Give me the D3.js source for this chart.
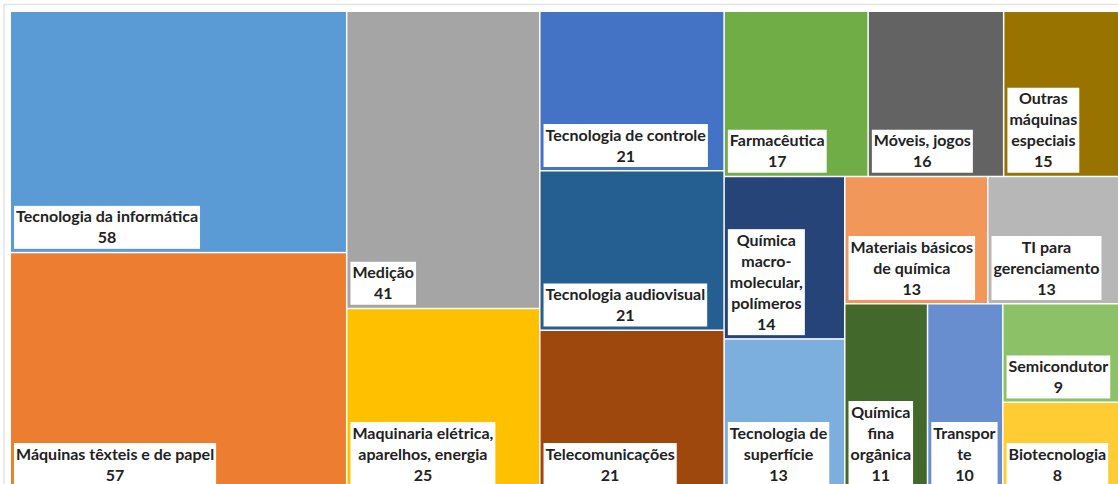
<!DOCTYPE html>
<html>
<head>
<meta charset="utf-8">
<script src="https://cdn.jsdelivr.net/npm/d3@7"></script>
<style>
  html, body { margin: 0; padding: 0; background: #fff; }
  svg { display: block; }
</style>
</head>
<body>
<div id="chart"></div>
<script>
// label lines as they wrap in the original
const categories = [
  'Tecnologia da informática', 'Máquinas têxteis e de papel', 'Medição',
  'Maquinaria elétrica,\naparelhos, energia', 'Tecnologia de controle', 'Tecnologia audiovisual',
  'Telecomunicações', 'Farmacêutica', 'Móveis, jogos', 'Outras\nmáquinas\nespeciais',
  'Química\nmacro-\nmolecular,\npolímeros', 'Tecnologia de\nsuperfície', 'Materiais básicos\nde química',
  'TI para\ngerenciamento', 'Química\nfina\norgânica', 'Transpor\nte', 'Semicondutor', 'Biotecnologia'
];
const values = [58, 57, 41, 25, 21, 21, 21, 17, 16, 15, 14, 13, 13, 13, 11, 10, 9, 8];
const colors = [
  '#5B9BD5', '#ED7D31', '#A5A5A5', '#FFC000', '#4472C4', '#255E91',
  '#9E480E', '#70AD47', '#636363', '#997300', '#264478', '#7CAFDD', '#F1975A',
  '#B7B7B7', '#43682B', '#698ED0', '#8CC168', '#FFCD33'
];

const width = 1118, height = 484;
const margin = { top: 12, left: 11 };
const mapWidth = 1119, mapHeight = 477;
const lineHeight = 21;

// squarified tiling that, like Excel, tolerates tall cells more than wide ones
const widePenalty = 1.6;
function excelTile(parent, x0, y0, x1, y1) {
  const nodes = parent.children;
  let value = parent.value, i0 = 0;
  while (i0 < nodes.length) {
    const dx = x1 - x0, dy = y1 - y0;
    const column = dx >= dy;
    const side = column ? dy : dx;
    const unit = dx * dy / value;
    const worst = (sum, row) => {
      const t = sum * unit / side;
      return d3.max(row, n => {
        const l = n.value * unit / t;
        const w = column ? t : l, h = column ? l : t;
        return w >= h ? widePenalty * w / h : h / w;
      });
    };
    let i1 = i0 + 1, sum = nodes[i0].value;
    let best = worst(sum, nodes.slice(i0, i1));
    while (i1 < nodes.length) {
      const next = worst(sum + nodes[i1].value, nodes.slice(i0, i1 + 1));
      if (next > best) break;
      best = next;
      sum += nodes[i1].value;
      i1++;
    }
    const row = { value: sum, children: nodes.slice(i0, i1) };
    if (column) {
      const x = x0 + dx * sum / value;
      d3.treemapSlice(row, x0, y0, x, y1);
      x0 = x;
    } else {
      const y = y0 + dy * sum / value;
      d3.treemapDice(row, x0, y0, x1, y);
      y0 = y;
    }
    value -= sum;
    i0 = i1;
  }
}

const data = {
  name: 'root',
  children: categories.map((name, i) => ({ name, value: values[i], color: colors[i] }))
};

const root = d3.hierarchy(data).sum(d => d.value || 0).sort((a, b) => b.value - a.value);
d3.treemap().size([mapWidth, mapHeight]).paddingInner(1.5).tile(excelTile)(root);

const svg = d3.select('#chart')
  .append('svg')
  .attr('width', width)
  .attr('height', height);

svg.append('rect')
  .attr('x', 4).attr('y', 4.5)
  .attr('width', 1300).attr('height', 600)
  .attr('fill', 'none')
  .attr('stroke', '#e4e4e4')
  .attr('stroke-width', 1.5);

const g = svg.append('g').attr('transform', `translate(${margin.left},${margin.top})`);

const cell = g.selectAll('g.cell')
  .data(root.leaves())
  .enter()
  .append('g')
  .attr('class', 'cell');

cell.append('rect')
  .attr('x', d => d.x0)
  .attr('y', d => d.y0)
  .attr('width', d => d.x1 - d.x0)
  .attr('height', d => d.y1 - d.y0)
  .attr('fill', d => d.data.color);

cell.each(function (d) {
  const lines = d.data.name.split('\n').concat([String(d.data.value)]);
  const sel = d3.select(this);
  const box = sel.append('rect').attr('fill', '#fff');
  const text = sel.append('text')
    .attr('font-family', 'Lato, sans-serif')
    .attr('font-weight', 700)
    .attr('font-size', 16)
    .attr('fill', '#222')
    .attr('text-anchor', 'middle');
  lines.forEach(l => text.append('tspan').text(l));
  const widest = d3.max(text.selectAll('tspan').nodes(), n => n.getComputedTextLength());
  const boxW = widest + 4;
  const boxH = lines.length * lineHeight + 1;
  const bx = d.x0 + 3, by = d.y1 - 3 - boxH;
  box.attr('x', bx).attr('y', by).attr('width', boxW).attr('height', boxH);
  text.selectAll('tspan')
    .attr('x', bx + boxW / 2)
    .attr('y', (l, i) => by + 16.5 + i * lineHeight);
});
</script>
</body>
</html>
